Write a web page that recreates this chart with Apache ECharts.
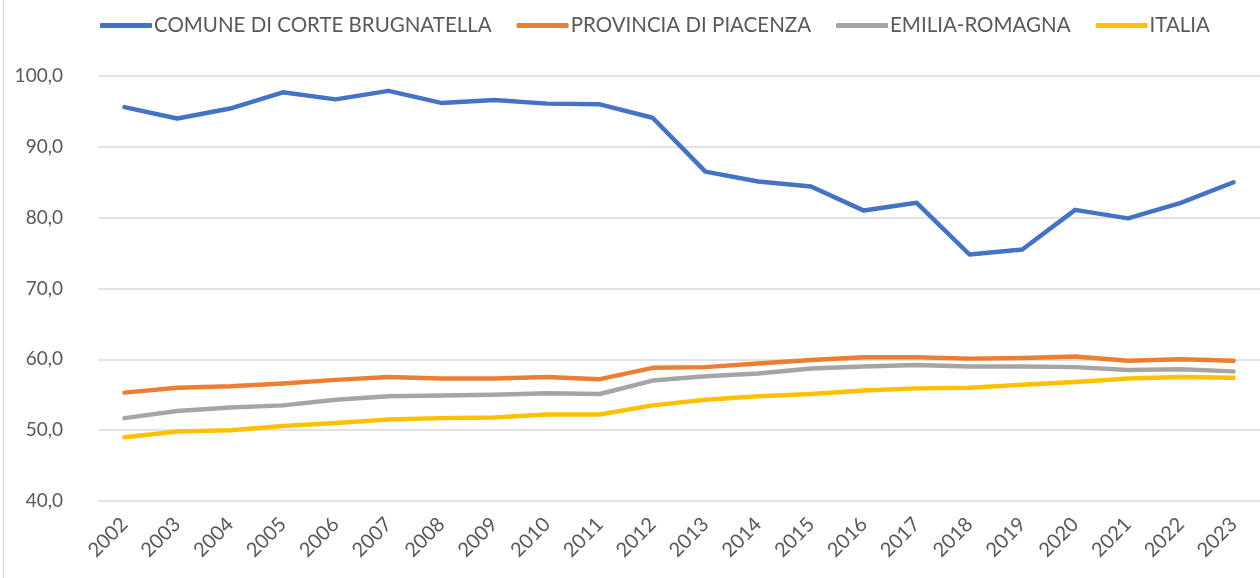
<!DOCTYPE html>
<html>
<head>
<meta charset="utf-8">
<script src="https://cdn.jsdelivr.net/npm/echarts@6/dist/echarts.min.js"></script>
<style>
  html, body { margin: 0; padding: 0; background: #fff; }
  #main { width: 1260px; height: 578px; }
</style>
</head>
<body>
<div id="main"></div>
<script>
var years = ['2002', '2003', '2004', '2005', '2006', '2007', '2008', '2009', '2010', '2011', '2012',
    '2013', '2014', '2015', '2016', '2017', '2018', '2019', '2020', '2021', '2022', '2023'];

var comune = [95.6, 94.0, 95.4, 97.7, 96.7, 97.9, 96.2, 96.6, 96.1, 96.0, 94.1,
    86.5, 85.1, 84.4, 81.0, 82.1, 74.8, 75.5, 81.1, 79.9, 82.1, 85.0];
var provincia = [55.3, 56.0, 56.2, 56.6, 57.1, 57.5, 57.3, 57.3, 57.5, 57.2, 58.8,
    58.9, 59.4, 59.9, 60.3, 60.3, 60.1, 60.2, 60.4, 59.8, 60.0, 59.8];
var regione = [51.7, 52.7, 53.2, 53.5, 54.3, 54.8, 54.9, 55.0, 55.2, 55.1, 57.0,
    57.6, 58.0, 58.7, 59.0, 59.2, 59.0, 59.0, 58.9, 58.5, 58.6, 58.3];
var italia = [49.0, 49.8, 50.0, 50.6, 51.0, 51.5, 51.7, 51.8, 52.2, 52.2, 53.5,
    54.3, 54.8, 55.1, 55.6, 55.9, 56.0, 56.4, 56.8, 57.3, 57.5, 57.4];

var names = ['COMUNE DI CORTE BRUGNATELLA', 'PROVINCIA DI PIACENZA', 'EMILIA-ROMAGNA', 'ITALIA'];
var colors = ['#4472C4', '#ED7D31', '#A5A5A5', '#FFC000'];
var yTicks = { min: 40, max: 100, step: 10 };

var font = 'Lato, "Open Sans", sans-serif';
var myChart = echarts.init(document.getElementById('main'));

function line(name, data, color) {
    return {
        name: name,
        type: 'line',
        data: data,
        symbol: 'none',
        lineStyle: { width: 4.5, color: color, cap: 'round', join: 'round' },
        itemStyle: { color: color }
    };
}

var option = {
    animation: false,
    color: colors,
    textStyle: { fontFamily: font },
    graphic: [{
        type: 'line',
        shape: { x1: 3.5, y1: 0, x2: 3.5, y2: 578 },
        style: { stroke: '#d9d9d9', lineWidth: 1 }
    }],
    legend: {
        top: 10,
        left: 95,
        icon: 'roundRect',
        itemWidth: 52,
        itemHeight: 5,
        itemGap: 25,
        textStyle: { fontSize: 20.5, color: '#595959', fontFamily: font, padding: [0, 0, 0, -3] },
        data: names
    },
    grid: {
        left: 98,
        right: -9,
        top: 76,
        bottom: 77,
        containLabel: false
    },
    xAxis: {
        type: 'category',
        data: years,
        boundaryGap: true,
        axisLine: { show: false },
        axisTick: { show: false },
        axisLabel: {
            rotate: 45,
            fontSize: 20,
            color: '#595959',
            margin: 20,
            interval: 0
        }
    },
    yAxis: {
        type: 'value',
        min: yTicks.min,
        max: yTicks.max,
        interval: yTicks.step,
        axisLine: { show: false },
        axisTick: { show: false },
        axisLabel: {
            fontSize: 19,
            color: '#595959',
            margin: 35,
            formatter: function (v) { return v.toFixed(1).replace('.', ','); }
        },
        splitLine: { lineStyle: { color: '#d9d9d9', width: 1.5 } }
    },
    series: [
        line(names[0], comune, colors[0]),
        line(names[1], provincia, colors[1]),
        line(names[2], regione, colors[2]),
        line(names[3], italia, colors[3])
    ]
};
myChart.setOption(option);
</script>
</body>
</html>
